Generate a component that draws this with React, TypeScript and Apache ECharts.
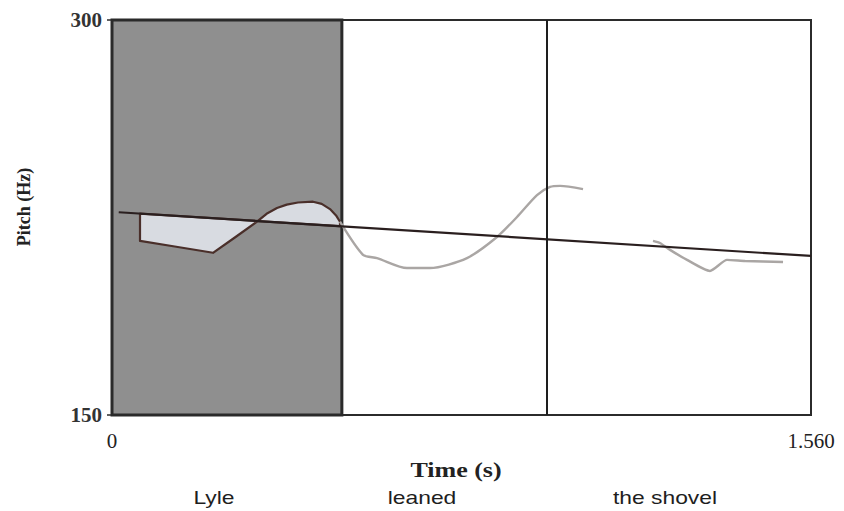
import React, { useEffect, useRef } from "react";
import * as echarts from "echarts";

const timeRange = [0, 1.56];
const pitchRange = [150, 300];
const shadedWord = [0, 0.513];
const wordBoundary = 0.975;
const words = ["Lyle", "leaned", "the shovel"];

// pitch contour (time s, Hz)
const contourLyle: number[][] = [
  [0.0625, 216.1], [0.14, 214.0], [0.2254, 211.6], [0.275, 217.5], [0.3236, 223.4],
  [0.345, 226.4], [0.3682, 228.6], [0.39, 229.9], [0.415, 230.7], [0.4486, 231.0],
  [0.468, 230.2], [0.4865, 228.2], [0.5, 225.8], [0.5088, 223.4],
];
const contourLeaned: number[][] = [
  [0.5088, 223.4], [0.5602, 210.8], [0.5914, 209.6], [0.6584, 205.8], [0.7097, 205.8],
  [0.7923, 209.6], [0.8592, 217.6], [0.9039, 225.2], [0.9485, 233.5], [0.9775, 236.6],
  [1.0, 237.0], [1.0512, 235.8],
];
const contourShovel: number[][] = [
  [1.2074, 216.1], [1.223, 215.3], [1.2454, 212.7], [1.2833, 208.9], [1.3346, 204.7],
  [1.3726, 208.9], [1.413, 208.5], [1.4976, 208.1],
];
const regressionLine: number[][] = [
  [0.015, 227.0], [1.56, 210.4],
];

function regressionAt(t: number) {
  const [a, b] = regressionLine;
  return a[1] + ((b[1] - a[1]) * (t - a[0])) / (b[0] - a[0]);
}

export default function App() {
  const ref = useRef<HTMLDivElement>(null);
  useEffect(() => {
    document.body.style.margin = "0";
    const chart = echarts.init(ref.current!, undefined, { renderer: "svg" });
    const serif = "Liberation Serif";
    const sans = "Liberation Sans";
    chart.setOption({
      animation: false,
      backgroundColor: "#ffffff",
      grid: {
        left: 112, right: 33, top: 20, bottom: 96,
        show: true, borderColor: "#2b2b2b", borderWidth: 2, backgroundColor: "transparent",
      },
      xAxis: {
        type: "value", min: timeRange[0], max: timeRange[1], interval: 1.56,
        axisLine: { show: true, lineStyle: { color: "#2b2b2b", width: 2 } },
        axisTick: { show: false },
        splitLine: { show: false },
        axisLabel: {
          fontFamily: serif, fontSize: 21, color: "#222", margin: 15,
          formatter: (v: number) => (v === 0 ? "0" : v.toFixed(3)),
        },
      },
      yAxis: {
        type: "value", min: pitchRange[0], max: pitchRange[1], interval: 150,
        axisLine: { show: true, lineStyle: { color: "#2b2b2b", width: 2 } },
        axisTick: { show: true, length: 5, lineStyle: { color: "#2b2b2b", width: 1.5 } },
        splitLine: { show: false },
        axisLabel: { fontFamily: serif, fontSize: 21, fontWeight: "bold", color: "#333", margin: 10 },
      },
      graphic: [
        {
          type: "text", x: 24, y: 207, rotation: Math.PI / 2,
          style: { text: "Pitch (Hz)", font: `bold 18px "${serif}"`, fill: "#222", textAlign: "center", textVerticalAlign: "middle" },
        },
        {
          type: "text", x: 456, y: 470, scaleX: 1.3,
          style: { text: "Time (s)", font: `bold 20px "${serif}"`, fill: "#222", textAlign: "center", textVerticalAlign: "middle" },
        },
        {
          type: "text", x: 214, y: 497, scaleX: 1.27,
          style: { text: words[0], font: `18px "${sans}"`, fill: "#1e1e1e", textAlign: "center", textVerticalAlign: "middle" },
        },
        {
          type: "text", x: 422, y: 497, scaleX: 1.27,
          style: { text: words[1], font: `18px "${sans}"`, fill: "#1e1e1e", textAlign: "center", textVerticalAlign: "middle" },
        },
        {
          type: "text", x: 665, y: 497, scaleX: 1.27,
          style: { text: words[2], font: `18px "${sans}"`, fill: "#1e1e1e", textAlign: "center", textVerticalAlign: "middle" },
        },
      ],
      series: [
        {
          type: "line", data: [], z: 1, silent: true,
          markArea: {
            silent: true,
            itemStyle: { color: "#8f8f8f", borderColor: "#2a2a2a", borderWidth: 3 },
            data: [[{ xAxis: shadedWord[0] }, { xAxis: shadedWord[1] }]],
          },
          markLine: {
            silent: true, symbol: "none", label: { show: false },
            lineStyle: { color: "#1e1e1e", width: 2, type: "solid" },
            data: [{ xAxis: wordBoundary }],
          },
        },
        {
          type: "custom", z: 2, silent: true,
          data: [contourLyle[0]],
          renderItem: (params: any, api: any) => {
            if (params.dataIndex !== 0) return null;
            const first = contourLyle[0];
            const last = contourLyle[contourLyle.length - 1];
            const pts = contourLyle.map((p) => api.coord(p));
            pts.push(api.coord([last[0], regressionAt(last[0])]));
            pts.push(api.coord([first[0], regressionAt(first[0])]));
            return {
              type: "polygon",
              shape: { points: pts },
              style: { fill: "#d8dbe1", stroke: "#4a2f2a", lineWidth: 2.2, lineJoin: "round" },
            };
          },
        },
        {
          type: "line", data: contourLeaned, z: 3, symbol: "none", silent: true, smooth: 0.25,
          lineStyle: { color: "#aaa6a4", width: 2.4 },
        },
        {
          type: "line", data: contourShovel, z: 3, symbol: "none", silent: true, smooth: 0.2,
          lineStyle: { color: "#aaa6a4", width: 2.4 },
        },
        {
          type: "line", data: regressionLine, z: 4, symbol: "none", silent: true,
          lineStyle: { color: "#2a1f1f", width: 2.2 },
        },
      ],
    });
    return () => chart.dispose();
  }, []);
  return <div ref={ref} style={{ width: 844, height: 511 }} />;
}
